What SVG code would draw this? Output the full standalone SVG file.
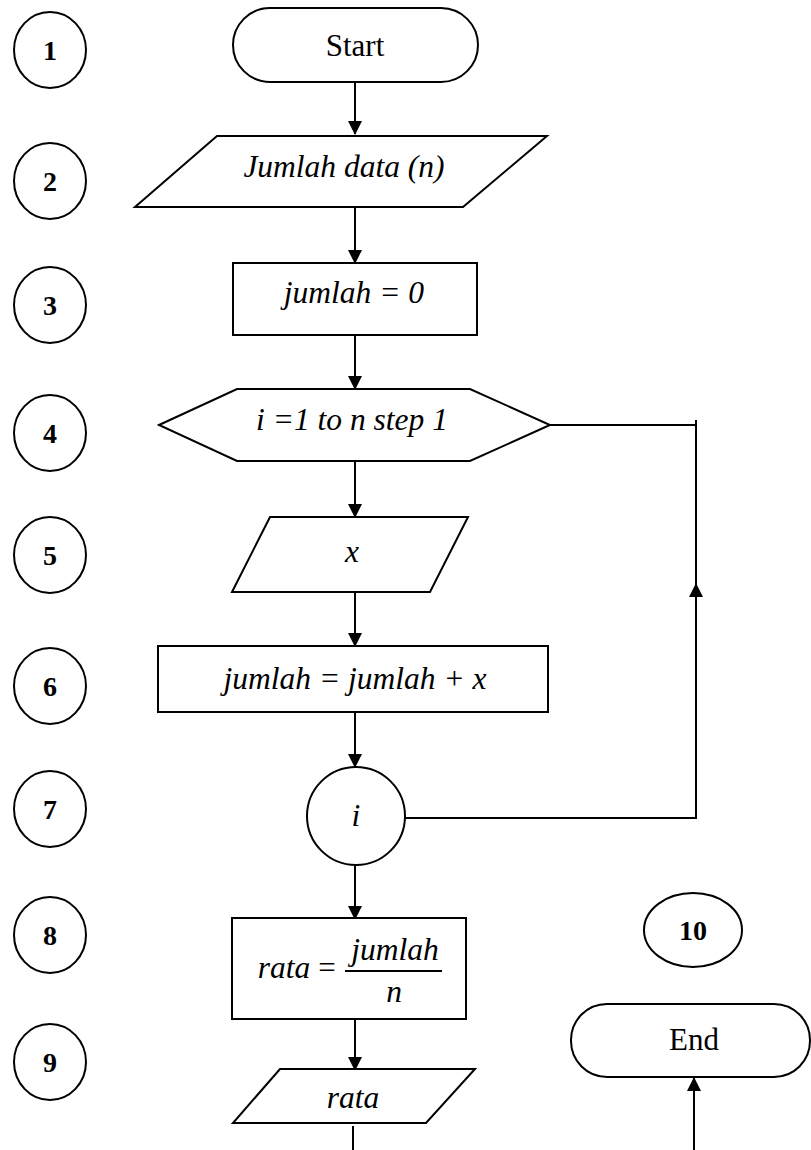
<svg xmlns="http://www.w3.org/2000/svg" width="811" height="1150" viewBox="0 0 811 1150">
<style>
.s{fill:#fff;stroke:#000;stroke-width:2}
.l{fill:none;stroke:#000;stroke-width:2}
.t{font-family:"Liberation Serif","Times New Roman",serif;font-size:31px;fill:#000;text-anchor:middle}
.i{font-style:italic;font-size:31.5px}
.b{font-weight:bold;font-size:28px}
</style>
<defs>
<marker id="a" markerUnits="userSpaceOnUse" markerWidth="14" markerHeight="18" refX="13" refY="7" orient="auto">
<path d="M0,0 L14,7 L0,14 Z" fill="#000"/>
</marker>
</defs>
<g id="labels">
<g id="lbl1"><ellipse class="s" cx="50" cy="50" rx="36" ry="38"/><text class="t b" x="50" y="60">1</text></g>
<g id="lbl2"><ellipse class="s" cx="50" cy="181" rx="36" ry="38"/><text class="t b" x="50" y="191">2</text></g>
<g id="lbl3"><ellipse class="s" cx="50" cy="305" rx="36" ry="38"/><text class="t b" x="50" y="315">3</text></g>
<g id="lbl4"><ellipse class="s" cx="50" cy="433" rx="36" ry="38"/><text class="t b" x="50" y="443">4</text></g>
<g id="lbl5"><ellipse class="s" cx="50" cy="555" rx="36" ry="38"/><text class="t b" x="50" y="565">5</text></g>
<g id="lbl6"><ellipse class="s" cx="50" cy="686" rx="36" ry="38"/><text class="t b" x="50" y="696">6</text></g>
<g id="lbl7"><ellipse class="s" cx="50" cy="809" rx="36" ry="38"/><text class="t b" x="50" y="819">7</text></g>
<g id="lbl8"><ellipse class="s" cx="50" cy="935" rx="36" ry="38"/><text class="t b" x="50" y="945">8</text></g>
<g id="lbl9"><ellipse class="s" cx="50" cy="1062" rx="36" ry="38"/><text class="t b" x="50" y="1072">9</text></g>
<g id="lbl10"><ellipse class="s" cx="693" cy="930" rx="49" ry="37"/><text class="t b" x="693" y="940">10</text></g>
</g>
<g id="connectors">
<line class="l" x1="355" y1="82" x2="355" y2="134" marker-end="url(#a)"/>
<line class="l" x1="355" y1="208" x2="355" y2="263" marker-end="url(#a)"/>
<line class="l" x1="355" y1="335" x2="355" y2="389" marker-end="url(#a)"/>
<line class="l" x1="355" y1="462" x2="355" y2="517" marker-end="url(#a)"/>
<line class="l" x1="355" y1="592" x2="355" y2="646" marker-end="url(#a)"/>
<line class="l" x1="355" y1="712" x2="355" y2="767" marker-end="url(#a)"/>
<line class="l" x1="355" y1="865" x2="355" y2="919" marker-end="url(#a)"/>
<line class="l" x1="355" y1="1019" x2="355" y2="1070" marker-end="url(#a)"/>
<line class="l" x1="353" y1="1126" x2="353" y2="1150"/>
<line class="l" x1="694" y1="1150" x2="694" y2="1078" marker-end="url(#a)"/>
<polyline class="l" points="405,818 696,818 696,584" marker-end="url(#a)"/>
<line class="l" x1="696" y1="600" x2="696" y2="420"/>
<line class="l" x1="550" y1="425" x2="696" y2="425"/>
</g>
<g id="start"><rect class="s" x="233" y="8" width="245" height="74" rx="37" ry="37"/><text class="t" x="355" y="56">Start</text></g>
<g id="input-n"><polygon class="s" points="217,136 547,136 463,207 135,207"/><text class="t i" x="344" y="177">Jumlah data (n)</text></g>
<g id="init"><rect class="s" x="233" y="263" width="244" height="72"/><text class="t i" x="354" y="303">jumlah = 0</text></g>
<g id="loop"><polygon class="s" points="159,425 237,389 470,389 550,425 470,461 237,461"/><text class="t i" x="352" y="430">i =1 to n step 1</text></g>
<g id="input-x"><polygon class="s" points="270,517 468,517 430,592 232,592"/><text class="t i" x="352" y="562">x</text></g>
<g id="sum"><rect class="s" x="158" y="646" width="390" height="66"/><text class="t i" x="355" y="689">jumlah = jumlah + x</text></g>
<g id="loopend"><ellipse class="s" cx="356" cy="816" rx="49" ry="49"/><text class="t i" x="356" y="826">i</text></g>
<g id="avg"><rect class="s" x="232" y="918" width="234" height="101"/>
<text class="t i" x="284" y="978">rata</text><text class="t" x="327" y="978">=</text>
<line class="l" x1="345" y1="971" x2="442" y2="971" stroke-width="1.5"/>
<text class="t i" x="395" y="960">jumlah</text><text class="t i" x="394" y="1002">n</text></g>
<g id="output"><polygon class="s" points="280,1069 475,1069 426,1123 233,1123"/><text class="t i" x="353" y="1108">rata</text></g>
<g id="end"><rect class="s" x="571" y="1004" width="239" height="73" rx="36" ry="36"/><text class="t" x="694" y="1050">End</text></g>
</svg>
